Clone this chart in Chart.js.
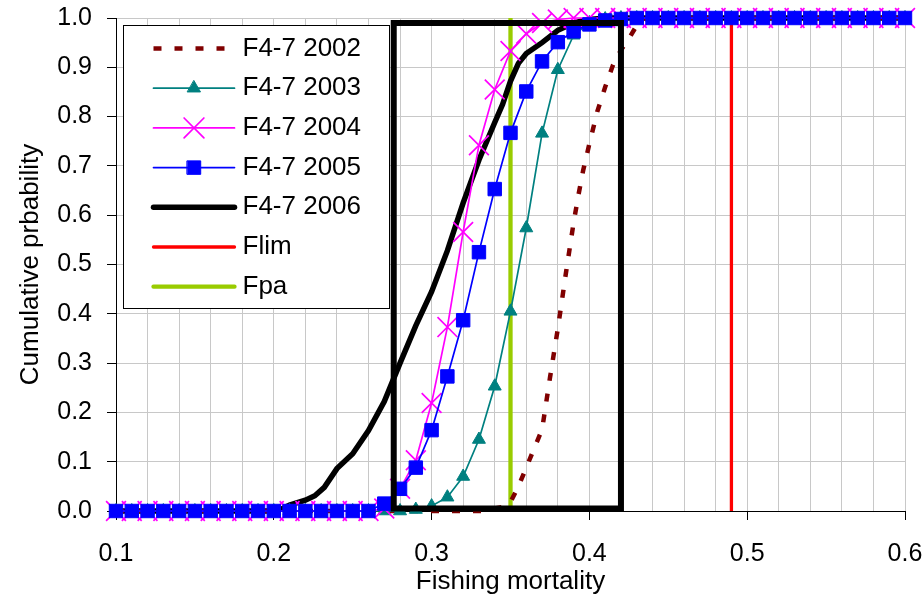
<!DOCTYPE html>
<html>
<head>
<meta charset="utf-8">
<script src="https://cdn.jsdelivr.net/npm/chart.js@4/dist/chart.umd.min.js"></script>
<style>
  html, body { margin: 0; padding: 0; background: #fff; }
  canvas { display: block; }
</style>
</head>
<body>
<canvas id="cdf" width="924" height="597"></canvas>
<script>
// fishing mortality grid used by the marker series (2003-2005)
var F_GRID = [0.10, 0.11, 0.12, 0.13, 0.14, 0.15, 0.16, 0.17, 0.18, 0.19,
              0.20, 0.21, 0.22, 0.23, 0.24, 0.25, 0.26, 0.27, 0.28, 0.29,
              0.30, 0.31, 0.32, 0.33, 0.34, 0.35, 0.36, 0.37, 0.38, 0.39,
              0.40, 0.41, 0.42, 0.43, 0.44, 0.45, 0.46, 0.47, 0.48, 0.49,
              0.50, 0.51, 0.52, 0.53, 0.54, 0.55, 0.56, 0.57, 0.58, 0.59, 0.60];

var P_2003 = [0, 0, 0, 0, 0, 0, 0, 0, 0, 0,
              0, 0, 0, 0, 0, 0, 0, 0, 0, 0.003,
              0.01, 0.028, 0.07, 0.145, 0.253, 0.405, 0.574, 0.766, 0.895, 0.965,
              0.99, 0.998, 1, 1, 1, 1, 1, 1, 1, 1,
              1, 1, 1, 1, 1, 1, 1, 1, 1, 1, 1];
var P_2004 = [0, 0, 0, 0, 0, 0, 0, 0, 0, 0,
              0, 0, 0, 0, 0, 0, 0, 0.005, 0.045, 0.103,
              0.219, 0.373, 0.566, 0.742, 0.855, 0.933, 0.968, 0.99, 0.997, 1,
              1, 1, 1, 1, 1, 1, 1, 1, 1, 1,
              1, 1, 1, 1, 1, 1, 1, 1, 1, 1, 1];
var P_2005 = [0, 0, 0, 0, 0, 0, 0, 0, 0, 0,
              0, 0, 0, 0, 0, 0, 0, 0.015, 0.045, 0.088,
              0.164, 0.273, 0.387, 0.525, 0.653, 0.767, 0.851, 0.912, 0.951, 0.973,
              0.987, 0.995, 0.998, 1, 1, 1, 1, 1, 1, 1,
              1, 1, 1, 1, 1, 1, 1, 1, 1, 1, 1];

// smooth curves without markers
var F_2002 = [0.10, 0.335, 0.34, 0.345, 0.35, 0.355, 0.36, 0.365, 0.37, 0.375,
              0.38, 0.385, 0.39, 0.393, 0.396, 0.40, 0.405, 0.41, 0.415, 0.42,
              0.425, 0.43, 0.435, 0.44, 0.60];
var P_2002 = [0, 0, 0.005, 0.008, 0.018, 0.05, 0.088, 0.127, 0.165, 0.27,
              0.37, 0.48, 0.585, 0.64, 0.69, 0.745, 0.81, 0.86, 0.905, 0.935,
              0.958, 0.985, 0.998, 1, 1];

var F_2006 = [0.10, 0.20, 0.205, 0.21, 0.22, 0.226, 0.232, 0.24, 0.25, 0.26,
              0.27, 0.28, 0.29, 0.30, 0.31, 0.32, 0.33, 0.34, 0.345, 0.35,
              0.355, 0.36, 0.37, 0.38, 0.39, 0.40, 0.41, 0.60];
var P_2006 = [0, 0, 0.004, 0.012, 0.022, 0.031, 0.048, 0.086, 0.116, 0.163,
              0.222, 0.30, 0.376, 0.445, 0.528, 0.625, 0.712, 0.788, 0.825, 0.872,
              0.908, 0.928, 0.950, 0.975, 0.99, 0.997, 1, 1];

// reference points
var FLIM = 0.49;
var FPA = 0.35;
var REF_P = [0, 1];

// highlighted range box
var BOX_F = [0.276, 0.276, 0.42, 0.42, 0.276];
var BOX_P = [0.005, 0.99, 0.99, 0.005, 0.005];

var LABELS = ["F4-7 2002", "F4-7 2003", "F4-7 2004", "F4-7 2005", "F4-7 2006", "Flim", "Fpa"];
var X_TICKS = [0.1, 0.2, 0.3, 0.4, 0.5, 0.6];

var FONT = '"Liberation Sans", Arial, sans-serif';

function pts(xs, ys) {
    return xs.map(function(x, i) { return {x: x, y: ys[i]}; });
}

function isMajor(v) {
    return X_TICKS.some(function(t) { return Math.abs(t - v) < 1e-6; });
}

// legend box drawn inside the plot, Excel style (line + marker)
var boxLegend = {
    id: "boxLegend",
    afterDraw: function(chart) {
        var c = chart.ctx;
        var area = chart.chartArea;
        var left = area.left + 7.5, top = area.top + 7.5;
        var w = 266, h = 283, rowH = 39.7;
        var items = chart.data.datasets.filter(function(d) { return d.inLegend; });
        c.save();
        c.fillStyle = "#fff";
        c.fillRect(left, top, w, h);
        c.strokeStyle = "#000";
        c.lineWidth = 1;
        c.strokeRect(left, top, w, h);
        items.forEach(function(d, i) {
            var y = top + 23 + i * rowH;
            var x0 = left + 30, x1 = left + 111;
            c.strokeStyle = d.borderColor;
            c.lineWidth = d.borderWidth;
            c.setLineDash(d.borderDash || []);
            c.lineCap = d.borderDash ? "butt" : "round";
            c.beginPath();
            c.moveTo(x0, y);
            c.lineTo(x1, y);
            c.stroke();
            c.setLineDash([]);
            if (d.pointRadius > 0) {
                c.fillStyle = d.pointBackgroundColor;
                c.strokeStyle = d.pointBorderColor;
                c.lineWidth = d.pointBorderWidth;
                Chart.helpers.drawPoint(c, {
                    pointStyle: d.pointStyle,
                    radius: d.pointRadius,
                    borderWidth: d.pointBorderWidth,
                    rotation: 0
                }, (x0 + x1) / 2, y);
            }
            c.fillStyle = "#000";
            c.font = "26px " + FONT;
            c.textBaseline = "middle";
            c.textAlign = "left";
            c.fillText(d.label, left + 119, y);
        });
        c.restore();
    }
};

Chart.defaults.font.family = FONT;
Chart.defaults.color = "#000";

var datasets = [
    {
        label: LABELS[0], inLegend: true, order: 4,
        data: pts(F_2002, P_2002),
        borderColor: "#800000", borderWidth: 4.5, borderDash: [8, 13],
        pointRadius: 0
    },
    {
        label: LABELS[1], inLegend: true, order: 3,
        data: pts(F_GRID, P_2003),
        borderColor: "#008080", borderWidth: 1.7,
        pointStyle: "triangle", pointRadius: 7.5,
        pointBackgroundColor: "#008080", pointBorderColor: "#008080", pointBorderWidth: 1
    },
    {
        label: LABELS[2], inLegend: true, order: 2,
        data: pts(F_GRID, P_2004),
        borderColor: "#ff00ff", borderWidth: 1.7,
        pointStyle: "crossRot", pointRadius: 14,
        pointBackgroundColor: "#ff00ff", pointBorderColor: "#ff00ff", pointBorderWidth: 1.7
    },
    {
        label: LABELS[3], inLegend: true, order: 1,
        data: pts(F_GRID, P_2005),
        borderColor: "#0000ff", borderWidth: 1.7,
        pointStyle: "rect", pointRadius: 9.5,
        pointBackgroundColor: "#0000ff", pointBorderColor: "#0000ff", pointBorderWidth: 1
    },
    {
        label: LABELS[4], inLegend: true, order: 5,
        data: pts(F_2006, P_2006),
        borderColor: "#000000", borderWidth: 5.5,
        pointRadius: 0
    },
    {
        label: LABELS[5], inLegend: true, order: 6,
        data: pts([FLIM, FLIM], REF_P),
        borderColor: "#ff0000", borderWidth: 3.3,
        pointRadius: 0
    },
    {
        label: LABELS[6], inLegend: true, order: 7,
        data: pts([FPA, FPA], REF_P),
        borderColor: "#99cc00", borderWidth: 4.3,
        pointRadius: 0
    },
    {
        label: "", inLegend: false, order: 0,
        data: pts(BOX_F, BOX_P),
        borderColor: "#000000", borderWidth: 6,
        borderCapStyle: "square", borderJoinStyle: "miter",
        pointRadius: 0
    }
];

datasets.forEach(function(d) {
    d.showLine = true;
    d.tension = 0;
    d.clip = false;
    d.fill = false;
    d.pointHoverRadius = d.pointRadius;
});

new Chart(document.getElementById("cdf"), {
    type: "scatter",
    data: {datasets: datasets},
    options: {
        responsive: false,
        animation: false,
        events: [],
        layout: {padding: {top: 18, right: 19, left: 0, bottom: 0}},
        plugins: {
            legend: {display: false},
            tooltip: {enabled: false}
        },
        scales: {
            x: {
                type: "linear",
                min: 0.1,
                max: 0.6,
                afterFit: function(s) {
                    s.height = 86;
                    s.paddingLeft = 0;
                    s.paddingRight = 0;
                },
                ticks: {
                    stepSize: 0.02,
                    autoSkip: false,
                    maxRotation: 0,
                    minRotation: 0,
                    padding: 19,
                    font: {size: 25},
                    callback: function(v) { return isMajor(v) ? v.toFixed(1) : ""; }
                },
                grid: {
                    color: "#c8c8c8",
                    lineWidth: 1,
                    tickLength: 9,
                    tickColor: function(ctx) {
                        return ctx.tick && isMajor(ctx.tick.value) ? "#000" : "rgba(0,0,0,0)";
                    }
                },
                border: {color: "#000", width: 1},
                title: {
                    display: true,
                    text: "Fishing mortality",
                    font: {size: 26},
                    padding: 0
                }
            },
            y: {
                min: 0,
                max: 1,
                afterFit: function(s) {
                    s.width = 116;
                    s.paddingTop = 0;
                    s.paddingBottom = 0;
                },
                ticks: {
                    stepSize: 0.1,
                    padding: 15,
                    font: {size: 25},
                    callback: function(v) { return v.toFixed(1); }
                },
                grid: {
                    color: "#c8c8c8",
                    lineWidth: 1,
                    tickLength: 9,
                    tickColor: "#000"
                },
                border: {color: "#000", width: 1},
                title: {
                    display: true,
                    text: "Cumulative prbability",
                    font: {size: 26},
                    padding: {top: 15, bottom: 0}
                }
            }
        }
    },
    plugins: [boxLegend]
});
</script>
</body>
</html>
